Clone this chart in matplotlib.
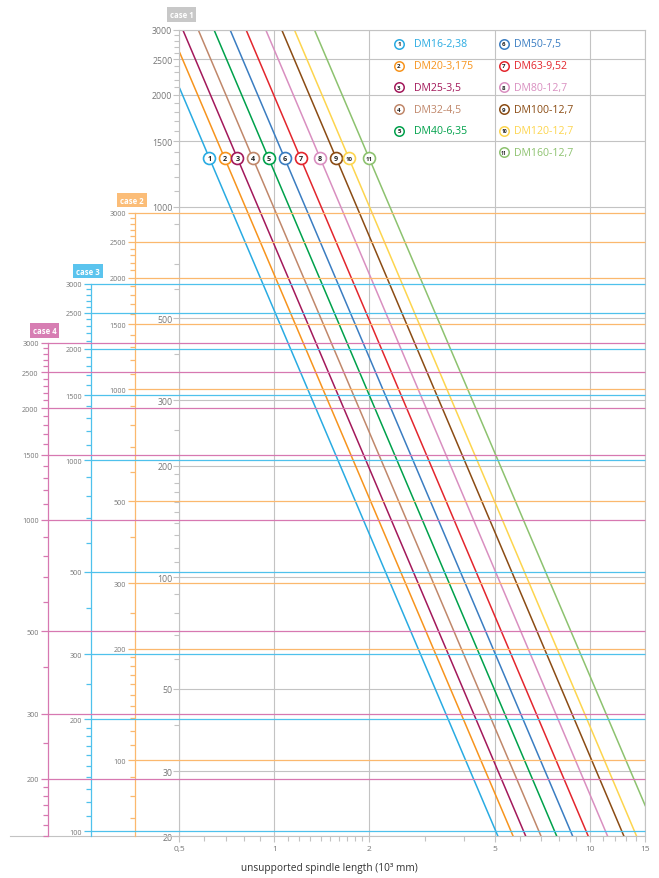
import matplotlib
matplotlib.use('Agg')
import matplotlib.pyplot as plt
import numpy as np
from matplotlib.ticker import FixedLocator, FixedFormatter, NullFormatter

plt.rcParams['font.family'] = ['Open Sans', 'DejaVu Sans']

# spindle series (critical speed lines, straight in log-log)
series_names = ['DM16-2,38', 'DM20-3,175', 'DM25-3,5', 'DM32-4,5', 'DM40-6,35',
                'DM50-7,5', 'DM63-9,52', 'DM80-12,7', 'DM100-12,7', 'DM120-12,7',
                'DM160-12,7']
series_colors = ['#29abe2', '#f7941d', '#a3195b', '#c0876a', '#00a14b',
                 '#3a7dc2', '#e3262d', '#d98fc0', '#8b4c14', '#fdd54e', '#8dc26f']
# where each line enters and leaves the plot (length in 10^3 mm, speed in case 1 units)
start_length = [0.5, 0.5, 0.512, 0.573, 0.643, 0.723, 0.8125, 0.938, 1.054, 1.156, 1.338]
start_speed = [2090, 2610, 3000, 3000, 3000, 3000, 3000, 3000, 3000, 3000, 3000]
end_length = [5.11, 5.71, 6.26, 7.0, 7.85, 8.82, 9.88, 11.38, 12.82, 14.06, 15]
end_speed = [20, 20, 20, 20, 20, 20, 20, 20, 20, 20, 24.1]
marker_speed = 1350  # row of circled numbers on the lines

speed_labels = [3000, 2500, 2000, 1500, 1000, 500, 300, 200, 100, 50, 30, 20]
speed_minor = [2900, 2800, 2700, 2600, 2400, 2300, 2200, 2100, 1900, 1800, 1700, 1600,
               1400, 1300, 1200, 1100, 900, 800, 700, 600, 400, 250,
               190, 180, 170, 160, 150, 140, 130, 120, 110, 90, 80, 70, 60, 40]

length_ticks = [0.5, 1, 2, 5, 10, 15]
length_labels = ['0,5', '1', '2', '5', '10', '15']
length_minor = [0.6, 0.7, 0.8, 0.9, 1.1, 1.2, 1.3, 1.4, 1.5, 1.6, 1.7, 1.8, 1.9,
                3, 4, 6, 7, 8, 9, 11, 12, 13, 14]

case_names = ['case 2', 'case 3', 'case 4']
case_factors = [3.115, 4.84, 7.0]
case_colors = ['#fbb86e', '#4fc1ec', '#d778b1']
case_box_colors = ['#fbbd78', '#5bc4ee', '#d77eb3']
case_spine_pos = [-0.0948, -0.1893, -0.2828]

gray = '#c3c3c3'
label_gray = '#777777'

fig = plt.figure(figsize=(6.59, 8.79), dpi=100)
ax = fig.add_axes([179.5 / 659, 41.7 / 879, 466 / 659, 806.6 / 879])
ax.set_xscale('log')
ax.set_yscale('log')
ax.set_xlim(0.5, 15)
ax.set_ylim(20, 3000)
ax.set_zorder(5)
ax.patch.set_visible(False)

ax.yaxis.set_major_locator(FixedLocator(speed_labels))
ax.yaxis.set_major_formatter(FixedFormatter([str(v) for v in speed_labels]))
ax.yaxis.set_minor_locator(FixedLocator(speed_minor))
ax.yaxis.set_minor_formatter(NullFormatter())
ax.xaxis.set_major_locator(FixedLocator(length_ticks))
ax.xaxis.set_major_formatter(FixedFormatter(length_labels))
ax.xaxis.set_minor_locator(FixedLocator(length_minor))
ax.xaxis.set_minor_formatter(NullFormatter())

ax.tick_params(axis='y', which='major', length=4.3, width=0.8, color=gray,
               labelcolor=label_gray, labelsize=6.3, pad=0.8)
ax.tick_params(axis='y', which='minor', length=3.6, width=0.8, color=gray)
ax.tick_params(axis='x', which='major', length=4.3, width=0.8, color=gray,
               labelcolor=label_gray, labelsize=6.0, pad=2.3)
ax.tick_params(axis='x', which='minor', length=3.6, width=0.8, color=gray)
for s in ax.spines.values():
    s.set_color(gray)
    s.set_linewidth(0.8)
ax.grid(which='major', color=gray, lw=0.8)

# bottom line runs out under the extra scales
ax.plot([-0.3637, 0], [0, 0], transform=ax.transAxes, clip_on=False, color=gray, lw=0.8)

ax.annotate('case 1', xy=(0, 3000), xycoords=('axes fraction', 'data'),
            xytext=(1.5, 11), textcoords='offset points', ha='center', va='center',
            color='white', fontsize=5.6, fontweight='bold',
            bbox=dict(boxstyle='square,pad=0.35', fc='#c8c8c8', ec='none'))

# extra speed scales for the other bearing cases
for name, f, col, bcol, pos in zip(case_names, case_factors, case_colors,
                                   case_box_colors, case_spine_pos):
    tw = ax.twinx()
    tw.set_yscale('log')
    lo, hi = 20 * f, 3000 * f
    tw.set_ylim(lo, hi)
    for k in ['top', 'right', 'bottom']:
        tw.spines[k].set_visible(False)
    sp = tw.spines['left']
    sp.set_visible(True)
    sp.set_position(('axes', pos))
    sp.set_bounds(lo, 3000)
    sp.set_color(col)
    sp.set_linewidth(0.9)
    tw.yaxis.set_ticks_position('left')
    tw.yaxis.set_label_position('left')
    majors = [v for v in speed_labels if lo <= v <= 3000]
    minors = [v for v in speed_minor if lo <= v <= 3000]
    tw.yaxis.set_major_locator(FixedLocator(majors))
    tw.yaxis.set_major_formatter(FixedFormatter([str(v) for v in majors]))
    tw.yaxis.set_minor_locator(FixedLocator(minors))
    tw.yaxis.set_minor_formatter(NullFormatter())
    tw.tick_params(axis='y', which='major', length=5, width=0.9, color=col,
                   labelcolor=label_gray, labelsize=5.2, pad=1.5)
    tw.tick_params(axis='y', which='minor', length=3.8, width=0.9, color=col)
    tw.hlines(majors, pos, 1, transform=tw.get_yaxis_transform(), colors=col,
              lw=0.9, clip_on=False)
    tw.annotate(name, xy=(pos, 3000), xycoords=('axes fraction', 'data'),
                xytext=(-2.4, 9), textcoords='offset points', ha='center', va='center',
                color='white', fontsize=5.6, fontweight='bold',
                bbox=dict(boxstyle='square,pad=0.35', fc=bcol, ec='none'))

# critical speed lines with circled numbers
for i, (name, col) in enumerate(zip(series_names, series_colors)):
    ax.plot([start_length[i], end_length[i]], [start_speed[i], end_speed[i]],
            color=col, lw=1.1, solid_capstyle='butt')
    t = (np.log(marker_speed) - np.log(start_speed[i])) / (np.log(end_speed[i]) - np.log(start_speed[i]))
    lx = np.exp(np.log(start_length[i]) + t * (np.log(end_length[i]) - np.log(start_length[i])))
    ax.plot(lx, marker_speed, 'o', ms=8.6, mfc='white', mec=col, mew=1.2, zorder=4)
    ax.text(lx, marker_speed, str(i + 1), ha='center', va='center', zorder=5,
            fontsize=5.2 if i < 9 else 4.3, fontweight='bold', color='#222222')

# legend: two columns of circled numbers and names
for i, (name, col) in enumerate(zip(series_names, series_colors)):
    c = 0 if i < 5 else 1
    r = i if i < 5 else i - 5
    cx = [0.471, 0.6963][c]
    tx = [0.5025, 0.7175][c]
    y = 0.9823 - r * 0.0269
    ax.plot(cx, y, 'o', transform=ax.transAxes, ms=6.8, mfc='white', mec=col,
            mew=1.1, clip_on=False, zorder=4)
    ax.text(cx, y, str(i + 1), transform=ax.transAxes, ha='center', va='center',
            fontsize=4.4 if i < 9 else 3.6, fontweight='bold', color='#222222', zorder=5)
    ax.text(tx, y, name, transform=ax.transAxes, ha='left', va='center',
            fontsize=7.6, color=col)

fig.text(0.5, 1 - 869 / 879, 'unsupported spindle length (10³ mm)', ha='center',
         va='center', fontsize=7.3, color='#333333')

fig.savefig('out.png', dpi=100)
